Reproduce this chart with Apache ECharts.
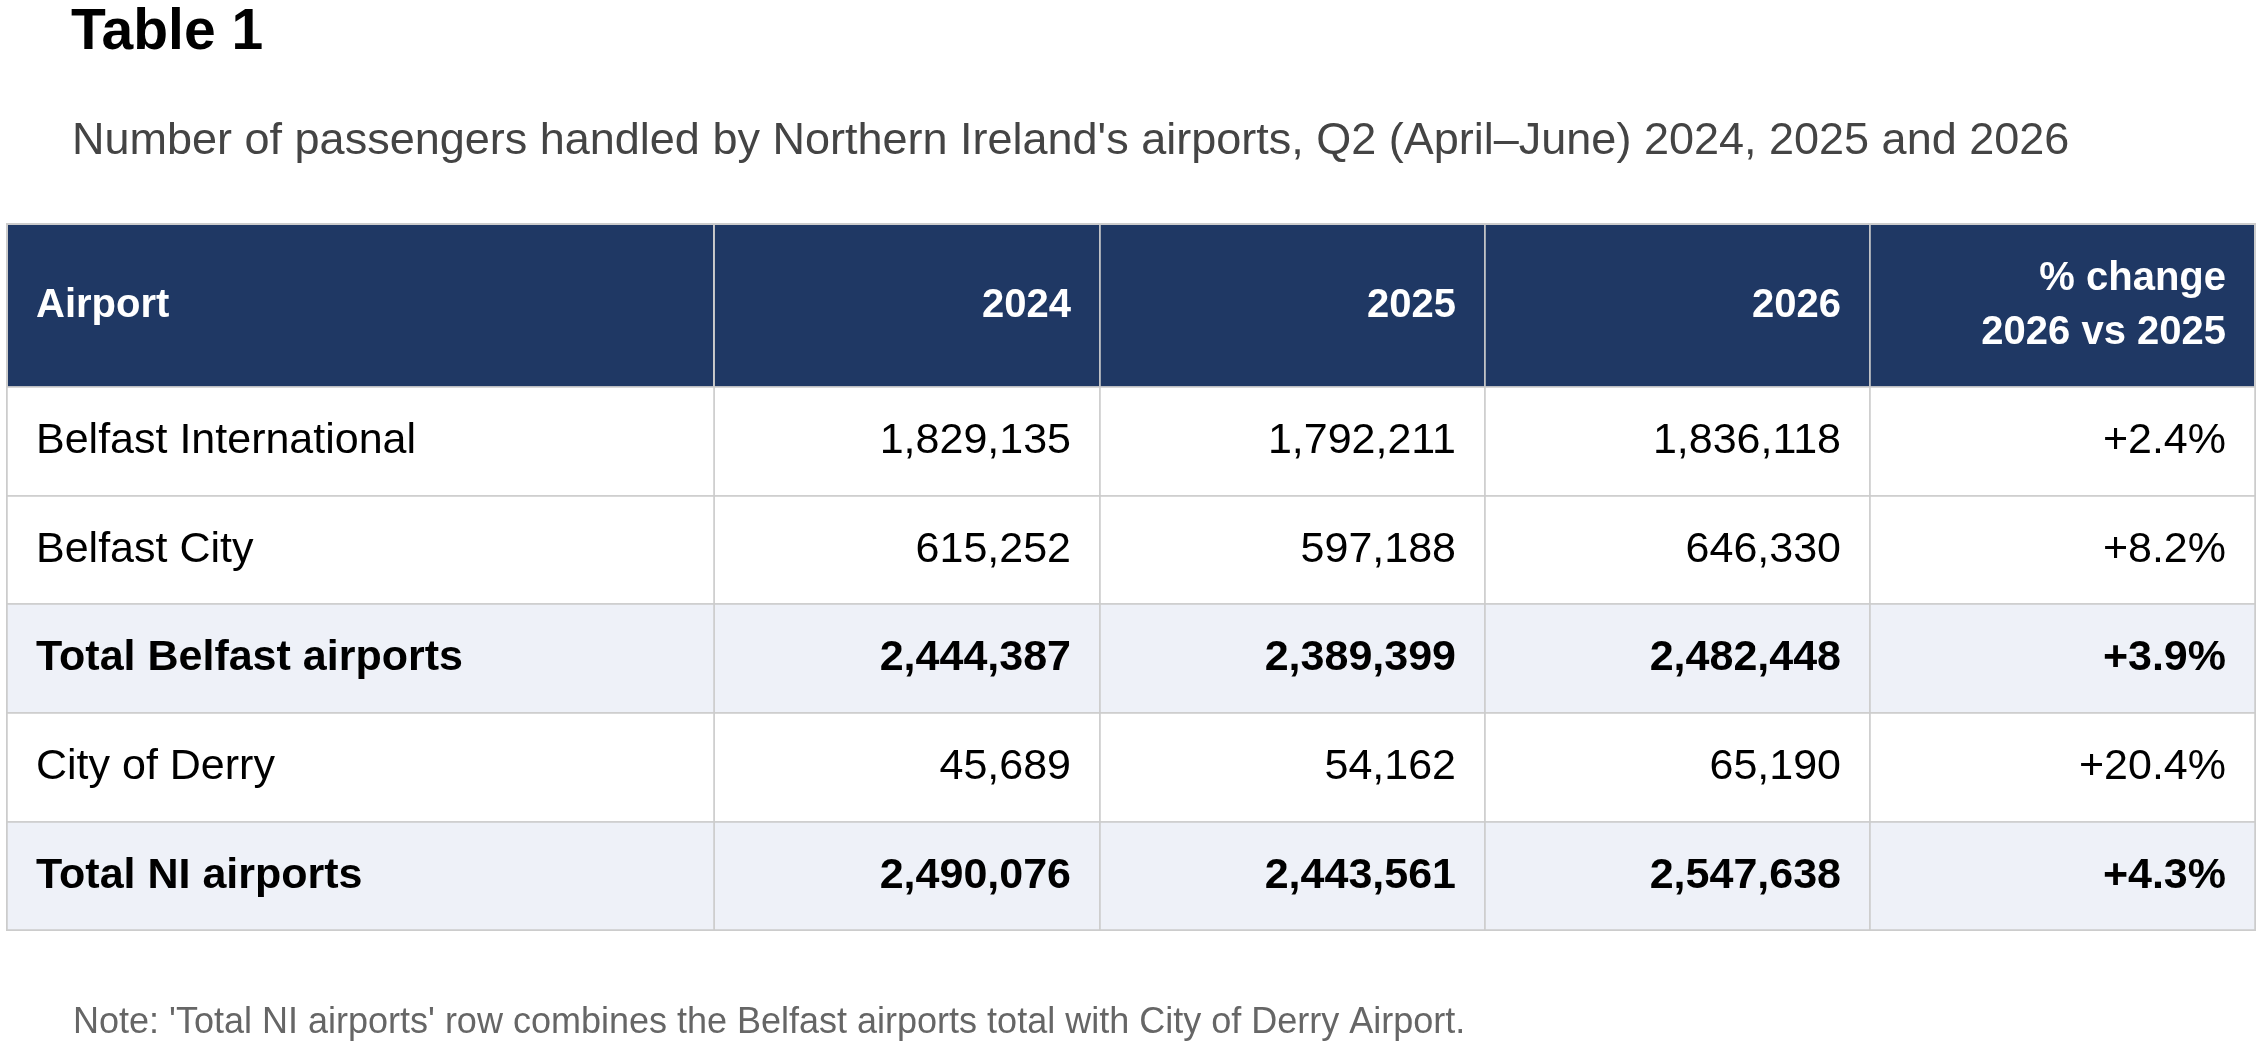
<!DOCTYPE html>
<html lang="en">
<head>
    <meta charset="UTF-8">
    <title>Table 1</title>
    <script src="https://cdn.jsdelivr.net/npm/echarts@6.0.0/dist/echarts.min.js"></script>
    <style>
        html, body { margin: 0; padding: 0; background: #fff; }
        #table-chart { width: 2268px; height: 1064px; }
    </style>
</head>
<body>
    <div id="table-chart"></div>

    <script>
        // Table data
        var airports = ['Belfast International', 'Belfast City', 'Total Belfast airports', 'City of Derry', 'Total NI airports'];
        var columns = ['2024', '2025', '2026', '% change\n2026 vs 2025'];
        var y2024 = [1829135, 615252, 2444387, 45689, 2490076];
        var y2025 = [1792211, 597188, 2389399, 54162, 2443561];
        var y2026 = [1836118, 646330, 2482448, 65190, 2547638];
        var pctChange = [2.4, 8.2, 3.9, 20.4, 4.3];

        var font = 'Liberation Sans, Arial, Helvetica, sans-serif';
        var headerBlue = '#1f3864';
        var totalBg = '#eef1f8';
        var lineGrey = '#cccccc';

        function isTotal(name) {
            return name.indexOf('Total') === 0;
        }

        function fmt(n) {
            return n.toLocaleString('en-US');
        }

        function fmtPct(p) {
            return (p >= 0 ? '+' : '') + p.toFixed(1) + '%';
        }

        // Body cells built from the arrays above
        var cells = [];
        airports.forEach(function (name, row) {
            var vals = [fmt(y2024[row]), fmt(y2025[row]), fmt(y2026[row]), fmtPct(pctChange[row])];
            vals.forEach(function (v, col) {
                cells.push({
                    coord: [col, row],
                    value: v,
                    itemStyle: { color: isTotal(name) ? totalBg : '#ffffff' },
                    label: { fontWeight: isTotal(name) ? 'bold' : 'normal' }
                });
            });
        });

        var chart = echarts.init(document.getElementById('table-chart'));

        var option = {
            backgroundColor: '#ffffff',
            textStyle: { fontFamily: font },
            title: [
                {
                    text: 'Table 1',
                    left: 66,
                    top: 0,
                    textStyle: { fontSize: 57, fontWeight: 'bold', color: '#000', fontFamily: font, lineHeight: 57 }
                },
                {
                    text: "Number of passengers handled by Northern Ireland's airports, Q2 (April\u2013June) 2024, 2025 and 2026",
                    left: 67,
                    top: 114,
                    textStyle: { fontSize: 45, fontWeight: 'normal', color: '#444444', fontFamily: font, lineHeight: 45 }
                },
                {
                    text: "Note: 'Total NI airports' row combines the Belfast airports total with City of Derry Airport.",
                    left: 68,
                    top: 1000,
                    textStyle: { fontSize: 36, fontWeight: 'normal', color: '#666666', fontFamily: font, lineHeight: 36 }
                }
            ],
            matrix: {
                left: 7,
                top: 224,
                width: 2248,
                height: 706,
                backgroundStyle: { color: '#ffffff', borderColor: lineGrey, borderWidth: 2 },
                x: {
                    data: columns,
                    levelSize: 163,
                    itemStyle: { color: headerBlue, borderColor: lineGrey, borderWidth: 1.5 },
                    label: {
                        color: '#ffffff', fontWeight: 'bold', fontSize: 40, fontFamily: font,
                        position: 'insideRight', distance: 26, align: 'right', lineHeight: 54
                    },
                    dividerLineStyle: { color: '#8893a6', width: 3 }
                },
                y: {
                    data: airports.map(function (name) {
                        return {
                            value: name,
                            itemStyle: { color: isTotal(name) ? totalBg : '#ffffff' },
                            label: { fontWeight: isTotal(name) ? 'bold' : 'normal' }
                        };
                    }),
                    levelSize: 707,
                    itemStyle: { borderColor: lineGrey, borderWidth: 1.5 },
                    label: {
                        color: '#000000', fontSize: 43, fontFamily: font,
                        position: 'insideLeft', distance: 26, align: 'left'
                    },
                    dividerLineStyle: { color: lineGrey, width: 1.5 }
                },
                corner: {
                    data: [{ coord: [-1, -1], value: 'Airport' }],
                    itemStyle: { color: headerBlue, borderColor: lineGrey, borderWidth: 1.5 },
                    label: {
                        color: '#ffffff', fontWeight: 'bold', fontSize: 40, fontFamily: font,
                        position: 'insideLeft', distance: 26, align: 'left'
                    }
                },
                body: {
                    data: cells,
                    itemStyle: { borderColor: lineGrey, borderWidth: 1.5 },
                    label: {
                        color: '#000000', fontSize: 43, fontFamily: font,
                        position: 'insideRight', distance: 26, align: 'right'
                    }
                }
            }
        };

        chart.setOption(option);
    </script>
</body>
</html>
